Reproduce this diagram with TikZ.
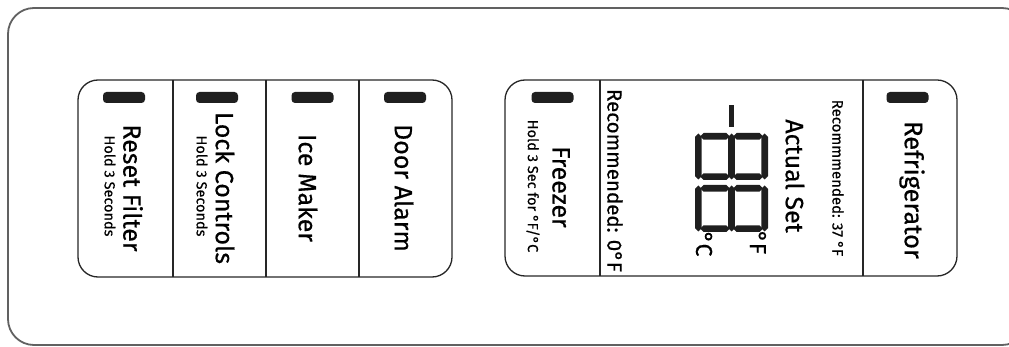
\documentclass[tikz,border=0pt]{standalone}
\usepackage{fontspec}
\setmainfont{Fira Sans}[FakeBold=0.5]
\tikzset{
  frame/.style={draw=black!62, line width=1.8pt, rounded corners=26pt},
  panel/.style={draw=black!85, line width=1.3pt, rounded corners=20pt},
  divider/.style={draw=black!85, line width=1.3pt},
  led/.style={fill=black!88, rounded corners=3.5pt, minimum width=42pt, minimum height=11pt, inner sep=0pt},
  seg/.style={fill=black!88},
  lbl/.style={rotate=-90, inner sep=0pt, font=\fontsize{25}{27}\selectfont},
  sub/.style={rotate=-90, inner sep=0pt, font=\fontsize{14.5}{16}\selectfont},
  mid/.style={rotate=-90, inner sep=0pt, font=\fontsize{20.5}{22}\selectfont},
  small/.style={rotate=-90, inner sep=0pt, font=\fontsize{15}{17}\selectfont},
}
% vertical LCD segment: x center, y start, y end
\newcommand\lcdv[3]{\fill[seg] ({#1},{#2}) -- ({#1+3.3},{#2+3.3}) -- ({#1+3.3},{#3-3.3}) -- ({#1},{#3}) -- ({#1-3.3},{#3-3.3}) -- ({#1-3.3},{#2+3.3}) -- cycle;}
% horizontal LCD segment: y center, x start, x end
\newcommand\lcdh[3]{\fill[seg] ({#2},{#1}) -- ({#2+3.3},{#1-3.3}) -- ({#3-3.3},{#1-3.3}) -- ({#3},{#1}) -- ({#3-3.3},{#1+3.3}) -- ({#2+3.3},{#1+3.3}) -- cycle;}
% rotated eight: x0, y0 (top-left), width 73, height 47
\newcommand\lcdeight[2]{%
  \lcdv{#1+3.3}{#2+0.5}{#2+46.5}
  \lcdv{#1+36.5}{#2+0.5}{#2+46.5}
  \lcdv{#1+69.7}{#2+0.5}{#2+46.5}
  \lcdh{#2+3.3}{#1+5.2}{#1+34.6}
  \lcdh{#2+3.3}{#1+38.4}{#1+67.8}
  \lcdh{#2+43.7}{#1+5.2}{#1+34.6}
  \lcdh{#2+43.7}{#1+38.4}{#1+67.8}
}
\begin{document}
\begin{tikzpicture}[x=1pt,y=-1pt]
  \useasboundingbox (0,0) rectangle (1009,347);
  \begin{scope}
    \clip (0,0) rectangle (1009,347);
    \draw[frame] (8,8) rectangle (1028,345);
  \end{scope}

  % left panel
  \draw[panel] (78,80) rectangle (452,277);
  \draw[divider] (173,80) -- (173,277);
  \draw[divider] (266,80) -- (266,277);
  \draw[divider] (359,80) -- (359,277);

  % right panel
  \draw[panel] (505,80) rectangle (957,276);
  \draw[divider] (600,80) -- (600,276);
  \draw[divider] (863,80) -- (863,276);

  % indicator bars
  \node[led] (ledreset) at (124,97.5) {};
  \node[led] (ledlock) at (217,97.5) {};
  \node[led] (ledice) at (312.5,97.5) {};
  \node[led] (leddoor) at (405,97.5) {};
  \node[led] (ledfreezer) at (552.5,97.5) {};
  \node[led] (ledfridge) at (907.5,97.5) {};

  % labels
  \node[lbl] (reset) at (133,188) {Reset Filter};
  \node[sub] (holdA) at (110,186) {Hold 3 Seconds};
  \node[lbl] (lock) at (225,188) {Lock Controls};
  \node[sub] (holdB) at (202,186) {Hold 3 Seconds};
  \node[lbl] (ice) at (308,188) {Ice Maker};
  \node[lbl] (door) at (404,188) {Door Alarm};
  \node[lbl] (freezer) at (561,187) {Freezer};
  \node[sub] (holdC) at (533,186) {Hold 3 Sec for °F/°C};
  \node[mid] (reczero) at (615,180.5) {Recommended: 0°F};
  \node[lbl] (actual) at (795,176) {Actual Set};
  \node[small] (recfridge) at (838,178) {Recommmended: 37 °F};
  \node[lbl, font=\fontsize{25.5}{27}\selectfont] (fridge) at (912,190) {Refrigerator};

  % LCD
  \fill[seg] (728.5,105) rectangle (733.5,127);
  \lcdeight{695}{133}
  \lcdeight{695}{185}
  \node[lbl, font=\fontsize{23}{25}\selectfont] (degf) at (758,242.5) {°F};
  \node[lbl, font=\fontsize{23}{25}\selectfont] (degc) at (704,244) {°C};
\end{tikzpicture}
\end{document}
